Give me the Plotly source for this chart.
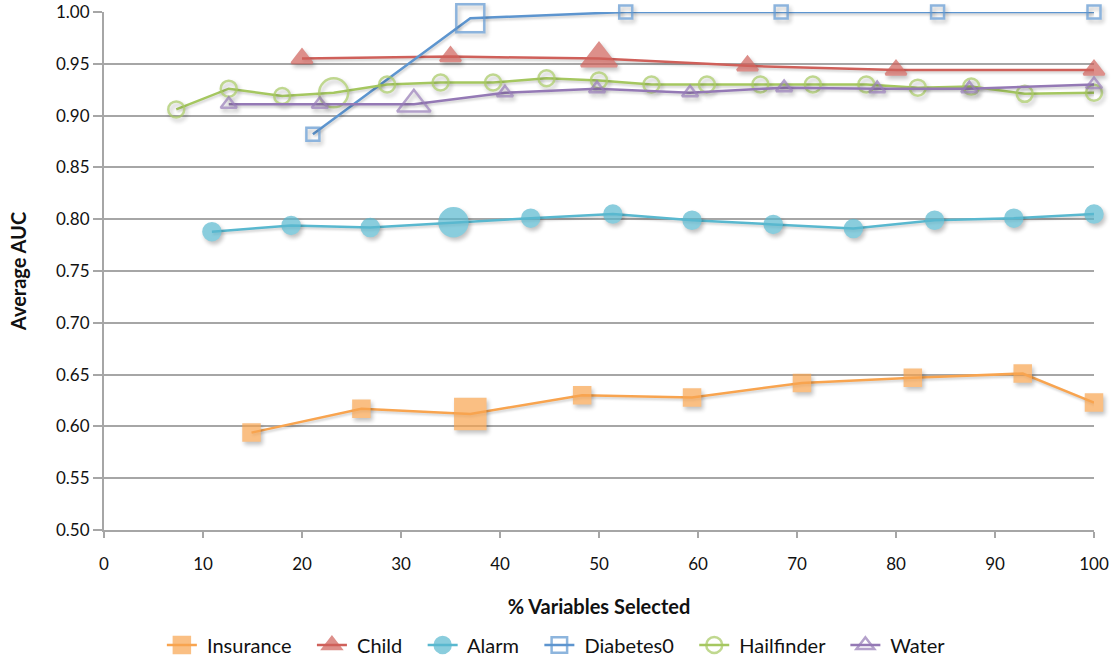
import plotly.graph_objects as go

# % of variables selected (x) and average AUC (y) for each network
insurance_x = [14.9, 26.0, 37.0, 48.3, 59.4, 70.5, 81.7, 92.8, 100]
insurance_auc = [0.594, 0.617, 0.612, 0.630, 0.628, 0.642, 0.647, 0.651, 0.623]

child_x = [20, 35, 50, 65, 80, 100]
child_auc = [0.955, 0.957, 0.955, 0.948, 0.944, 0.944]

alarm_x = [10.9, 18.9, 26.9, 35.3, 43.1, 51.4, 59.4, 67.6, 75.7, 83.9, 91.9, 100]
alarm_auc = [0.788, 0.794, 0.792, 0.797, 0.801, 0.805, 0.799, 0.795, 0.791, 0.799, 0.801, 0.805]

diabetes_x = [21.1, 37.0, 52.7, 68.4, 84.2, 100]
diabetes_auc = [0.882, 0.994, 1.0, 1.0, 1.0, 1.0]

hail_x = [7.3, 12.6, 18.0, 23.2, 28.6, 34.0, 39.3, 44.7, 50.0, 55.3, 60.9,
          66.3, 71.6, 77.0, 82.2, 87.6, 93.0, 100]
hail_auc = [0.906, 0.926, 0.919, 0.922, 0.930, 0.932, 0.932, 0.936, 0.934, 0.930,
            0.930, 0.930, 0.930, 0.930, 0.927, 0.928, 0.921, 0.922]

water_x = [12.6, 21.8, 31.3, 40.5, 49.8, 59.2, 68.7, 78.1, 87.4, 100]
water_auc = [0.911, 0.911, 0.911, 0.922, 0.926, 0.922, 0.927, 0.926, 0.926, 0.930]

x_ticks = list(range(0, 101, 10))

FONT = "Lato, 'Open Sans', sans-serif"
# spacing around each legend label
LEAD = "\u00a0"
TRAIL = "\u00a0\u00a0\u00a0"


def sizes(n, small, big, big_idx):
    return [big if i == big_idx else small for i in range(n)]


series = [
    # name, x, y, colour, symbol, small, big, highlighted index
    ("Insurance", insurance_x, insurance_auc, "#F8A44F", "square", 16, 30, 2),
    ("Child", child_x, child_auc, "#CF605A", "triangle-up", 18, 31, 2),
    ("Alarm", alarm_x, alarm_auc, "#59B8CF", "circle", 17, 28, 3),
    ("Diabetes0", diabetes_x, diabetes_auc, "#5D95CF", "square-open", 13, 28, 1),
    ("Hailfinder", hail_x, hail_auc, "#A5C760", "circle-open", 16, 29, 3),
    ("Water", water_x, water_auc, "#9479B5", "triangle-up-open", 14, 29, 2),
]

fig = go.Figure()
for name, xs, ys, color, symbol, small, big, idx in series:
    fig.add_trace(go.Scatter(
        x=xs, y=ys, name=LEAD + name + TRAIL, mode="lines+markers",
        line=dict(color=color, width=2.5),
        marker=dict(symbol=symbol, color=color, size=sizes(len(xs), small, big, idx),
                    line=dict(color=color, width=2.5)),
        cliponaxis=False,
    ))

grid = "#A6A6A6"
fig.update_layout(
    width=1118, height=659,
    margin=dict(l=104, r=24, t=12, b=129, autoexpand=False),
    paper_bgcolor="white", plot_bgcolor="white",
    font=dict(family=FONT, size=17, color="#111111"),
    showlegend=True,
    legend=dict(orientation="h", x=0.464, xanchor="center", y=-0.222, yanchor="middle",
                font=dict(size=20), itemwidth=30, traceorder="normal"),
    xaxis=dict(
        range=[0, 100], tickvals=x_ticks, showgrid=False, zeroline=False,
        showline=True, linecolor=grid, linewidth=2,
        ticks="outside", ticklen=6, tickcolor=grid, tickwidth=2,
        ticklabelstandoff=12,
        title=dict(text="<b>% Variables Selected</b>", font=dict(size=20), standoff=27),
    ),
    yaxis=dict(
        range=[0.5, 1.0], dtick=0.05, tickformat=".2f",
        showgrid=True, gridcolor=grid, gridwidth=2, zeroline=False,
        showline=True, linecolor=grid, linewidth=2,
        ticks="outside", ticklen=9, tickcolor=grid, tickwidth=2,
        title=dict(text="<b>Average AUC</b>", font=dict(size=20), standoff=24),
    ),
)

# soft drop shadow under the plotted markers and lines
shadow_js = """
var s = document.createElement('style');
s.innerHTML = '.scatterlayer .trace .points path{filter:drop-shadow(2px 3px 2px rgba(0,0,0,0.35));}'
  + '.scatterlayer .trace .js-line{filter:drop-shadow(1px 2px 1px rgba(0,0,0,0.18));}';
document.head.appendChild(s);
"""

fig.write_html("out.html", post_script=shadow_js)
